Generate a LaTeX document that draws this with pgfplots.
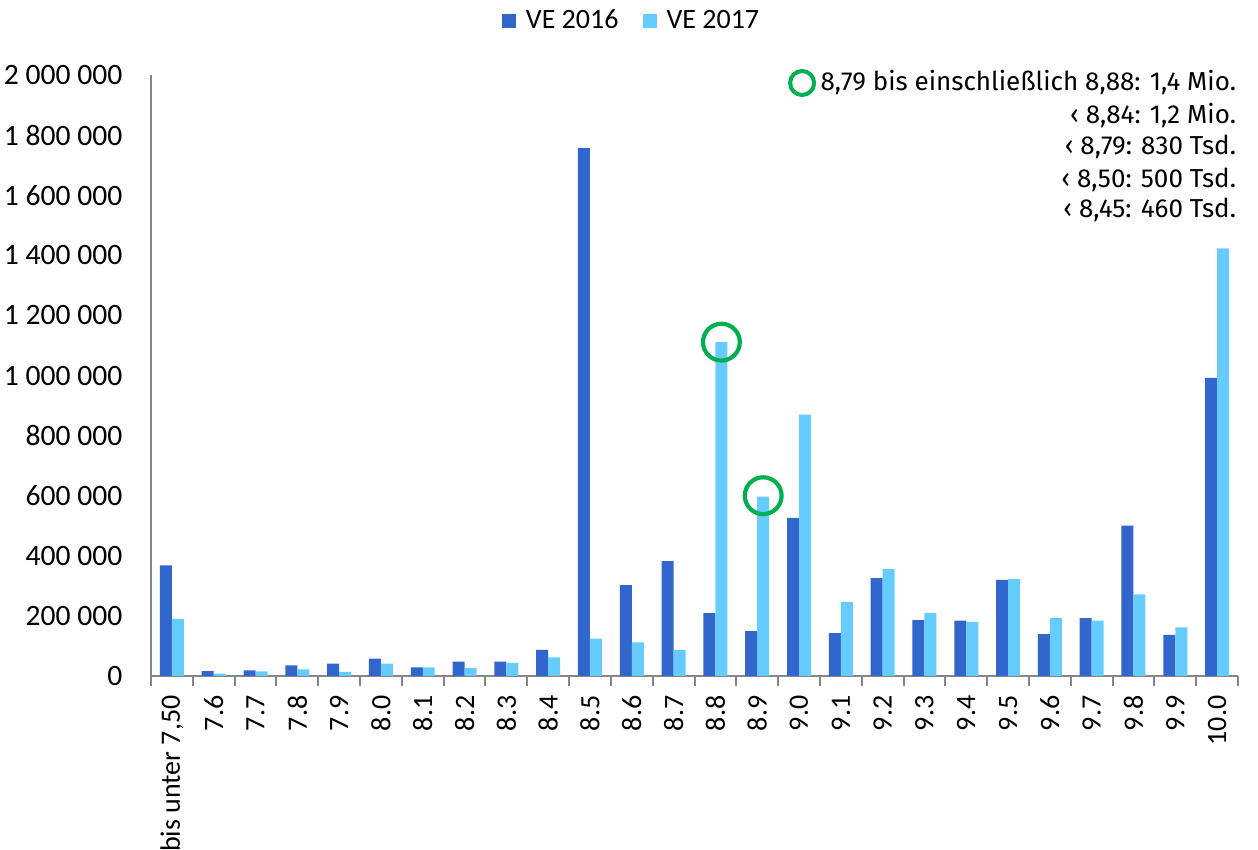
\documentclass[border=0pt]{standalone}
\usepackage{fontspec}
\setmainfont{Carlito}
\newfontfamily\fira{Fira Sans}
\usepackage{pgfplots}
\pgfplotsset{compat=1.18}
\definecolor{dblue}{HTML}{3366CC}
\definecolor{lblue}{HTML}{66CCFF}
\definecolor{agray}{HTML}{868686}
\definecolor{mgreen}{HTML}{00B050}
\begin{document}
\begin{tikzpicture}
\useasboundingbox (-75.5pt,-87pt) rectangle (553.5pt,338pt);
\begin{axis}[
  at={(0,0)}, anchor=south west,
  scale only axis,
  width=543.5pt, height=300.5pt,
  clip=false,
  xmin=-0.5, xmax=25.5,
  ymin=0, ymax=2000000,
  axis x line*=bottom, axis y line*=left,
  axis line style={agray, line width=1pt},
  ytick={0,200000,...,2000000},
  scaled y ticks=false,
  /pgf/number format/fixed,
  /pgf/number format/precision=0,
  /pgf/number format/1000 sep={\ },
  /pgf/number format/assume math mode=true,
  y tick label style={xshift=-6.5pt, font=\fontsize{14.8}{16}\selectfont},
  major y tick style={draw=none},
  xtick={0,...,25},
  xticklabels={bis unter 7{,}50,7.6,7.7,7.8,7.9,8.0,8.1,8.2,8.3,8.4,8.5,8.6,8.7,8.8,8.9,9.0,9.1,9.2,9.3,9.4,9.5,9.6,9.7,9.8,9.9,10.0},
  x tick label style={rotate=90, anchor=east, xshift=-2pt, font=\fontsize{14}{16}\selectfont},
  major x tick style={draw=none},
  minor xtick={-0.5,0.5,...,25.5},
  minor tick length=5pt,
  minor x tick style={agray, line width=1pt},
  tick align=outside,
  legend style={at={(axis description cs:0.443,1.09)}, anchor=center, draw=none, fill=none,
    legend columns=2, font=\fontsize{14}{16}\selectfont,
    /tikz/every even column/.append style={column sep=10pt}},
  legend image code/.code={\fill (0pt,-3.5pt) rectangle (7pt,3.5pt);},
  legend cell align=left,
]
\addplot[ybar, bar width=0.287, bar shift=-0.1435, fill=dblue, draw=none] coordinates {
(0,368000) (1,16000) (2,19000) (3,35000) (4,41000) (5,58000) (6,29000) (7,48000) (8,48000) (9,87000)
(10,1757000) (11,302000) (12,382000) (13,209000) (14,149000) (15,526000) (16,143000) (17,326000)
(18,186000) (19,184000) (20,320000) (21,139000) (22,193000) (23,500000) (24,137000) (25,992000)};
\addlegendentry{\hspace{3pt}VE 2016}
\addplot[ybar, bar width=0.287, bar shift=0.1435, fill=lblue, draw=none] coordinates {
(0,189000) (1,8000) (2,15000) (3,22000) (4,14000) (5,41000) (6,29000) (7,26000) (8,44000) (9,62000)
(10,124000) (11,112000) (12,87000) (13,1111000) (14,597000) (15,870000) (16,247000) (17,356000)
(18,210000) (19,179000) (20,323000) (21,193000) (22,184000) (23,272000) (24,162000) (25,1423000)};
\addlegendentry{\hspace{3pt}VE 2017}
\addplot[only marks, forget plot, mark=o, mark size=9.2pt, mgreen, mark options={line width=2.1pt}] coordinates {
(13.1435,1111000) (14.1435,600000)};
\node[circle, draw=mgreen, line width=2pt, minimum size=12pt, inner sep=0pt] at (rel axis cs:0.599,0.9867) {};
\node[anchor=base east, font=\fira\fontsize{13}{15}\selectfont, inner sep=0pt] at (rel axis cs:0.9985,0.9734) {8,79 bis einschließlich 8,88: 1,4 Mio.};
\node[anchor=base east, font=\fira\fontsize{13}{15}\selectfont, inner sep=0pt] at (rel axis cs:0.9985,0.9201) {‹ 8,84: 1,2 Mio.};
\node[anchor=base east, font=\fira\fontsize{13}{15}\selectfont, inner sep=0pt] at (rel axis cs:0.9985,0.8669) {‹ 8,79: 830 Tsd.};
\node[anchor=base east, font=\fira\fontsize{13}{15}\selectfont, inner sep=0pt] at (rel axis cs:0.9985,0.8136) {‹ 8,50: 500 Tsd.};
\node[anchor=base east, font=\fira\fontsize{13}{15}\selectfont, inner sep=0pt] at (rel axis cs:0.9985,0.7637) {‹ 8,45: 460 Tsd.};
\end{axis}
\end{tikzpicture}
\end{document}
